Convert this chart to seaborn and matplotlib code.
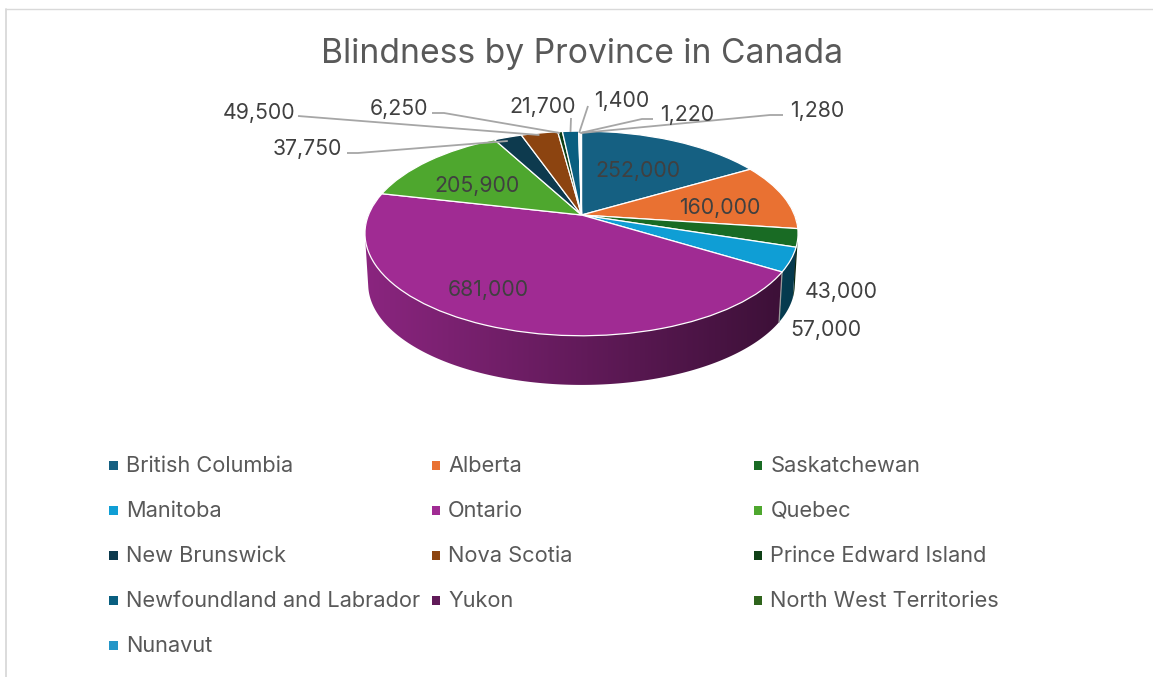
import numpy as np
import pandas as pd
import matplotlib
matplotlib.use("Agg")
import matplotlib.pyplot as plt
from matplotlib.patches import Polygon
from matplotlib.transforms import Transform
import seaborn as sns

# Blind population per province, in slice order
provinces = ["British Columbia", "Alberta", "Saskatchewan", "Manitoba", "Ontario", "Quebec",
             "New Brunswick", "Nova Scotia", "Prince Edward Island",
             "Newfoundland and Labrador", "Yukon", "North West Territories", "Nunavut"]
blind_counts = [252000, 160000, 43000, 57000, 681000, 205900, 37750, 49500, 6250, 21700, 1400, 1220, 1280]
slice_hex = ["#156082", "#E97132", "#196B24", "#0F9ED5", "#A02B93", "#4EA72E",
             "#0D3A4E", "#8C4410", "#0F4016", "#095F80", "#601A58", "#2F641C", "#2496C8"]

# Value label anchors (centre x, centre y) in figure pixels
label_xy = [(638, 171), (720, 208), (841, 292), (826, 330), (488, 290), (477, 186),
            (307, 149), (259, 113), (399, 109), (543, 107), (622, 101), (687, 115), (817, 111)]
# Leader elbows for the labels set outside the slice: province index -> label-side points
leaders = {6: [(347, 153), (358, 153)], 7: [(298, 116)], 8: [(432, 113), (444, 113)],
           9: [(571, 118)], 10: [(588, 106)], 11: [(653, 119), (642, 119)],
           12: [(783, 115), (770, 115)]}
leader_rim_y = {6: 141, 7: 135, 8: 133, 9: 132, 10: 133, 11: 133, 12: 133}

FONT = "Inter"
TITLE_GREY = "#595959"
LABEL_GREY = "#404040"
LEADER_GREY = "#A6A6A6"

sns.set_theme(style="white")
plt.rcParams["font.family"] = [FONT, "DejaVu Sans"]

fig = plt.figure(figsize=(11.53, 6.77), dpi=100)
ax = fig.add_axes([0, 0, 1, 1])

CX, CY = 581.5, 215.0
SPREAD_X, SPREAD_Y, TILT = 213.0, 99.0, 0.18
WALL_DROP, WALL_SCALE = 51.0, 0.985


def project(x, y, scale=1.0, drop=0.0):
    """Perspective view of the unit disc, returned in figure pixels."""
    w = 1 + TILT * np.asarray(y)
    return (CX + scale * SPREAD_X * np.asarray(x) / w,
            CY + drop - scale * SPREAD_Y * np.asarray(y) / w)


def convex_hull(points):
    """Monotone-chain hull of an (n, 2) array."""
    pts = sorted(map(tuple, points))

    def half(seq):
        out = []
        for p in seq:
            while len(out) > 1 and ((out[-1][0] - out[-2][0]) * (p[1] - out[-2][1])
                                    - (out[-1][1] - out[-2][1]) * (p[0] - out[-2][0])) <= 0:
                out.pop()
            out.append(p)
        return out[:-1]

    return np.array(half(pts) + half(pts[::-1]))


class DiscView(Transform):
    input_dims = output_dims = 2
    is_separable = False
    has_inverse = False

    def transform_non_affine(self, values):
        values = np.asarray(values)
        return np.column_stack(project(values[:, 0], values[:, 1]))


colors = sns.color_palette(slice_hex)
wedges, _ = ax.pie(blind_counts, colors=colors, startangle=90, counterclock=False, radius=1,
                   wedgeprops=dict(edgecolor="white", linewidth=0.9))
disc_view = DiscView() + ax.transData
for wedge in wedges:
    wedge.set_transform(disc_view)
    wedge.set_zorder(3)

# Horizontal lighting ramp for the side wall, from lit on the left to dark on the right
ramp_x = np.linspace(340, 820, 481)
ramp = np.clip(0.86 - (ramp_x - 370) / 410 * 0.48, 0.3, 1)

# Side wall: the hull of each slice's rim swept downward, filled with the shaded slice colour.
# Anything behind the rim stays hidden under the top surface.
for wedge, col in zip(wedges, colors):
    t1, t2 = sorted((wedge.theta1, wedge.theta2))
    th = np.radians(np.linspace(t1, t2, max(3, int(t2 - t1) * 2)))
    th = th[np.sin(th) < 0.6]
    if th.size < 2:
        continue
    ux, uy = project(np.cos(th), np.sin(th))
    lx, ly = project(np.cos(th), np.sin(th), WALL_SCALE, WALL_DROP)
    outline = convex_hull(np.column_stack([np.r_[ux, lx], np.r_[uy, ly]]))
    clip = Polygon(outline, closed=True, transform=ax.transData, facecolor="none", edgecolor="none")
    ax.add_patch(clip)
    shaded = ramp[None, :, None] * np.array(col)[None, None, :]
    img = ax.imshow(shaded, extent=(ramp_x[0], ramp_x[-1], 400, 200), aspect="auto",
                    interpolation="bilinear", zorder=1)
    img.set_clip_path(clip)

# Light seam on the wall where Manitoba meets Ontario
seam = np.radians(wedges[3].theta1)
sx0, sy0 = project(np.cos(seam), np.sin(seam))
sx1, sy1 = project(np.cos(seam), np.sin(seam), WALL_SCALE, WALL_DROP)
ax.plot([sx0, sx1], [sy0, sy1], color="#9a9a9a", lw=0.9, zorder=2)

# Value labels and their leader lines
for i, (value, (lx, ly)) in enumerate(zip(blind_counts, label_xy)):
    ax.text(lx, ly, f"{value:,}", ha="center", va="center", fontsize=15.3,
            color=LABEL_GREY, zorder=5)
    if i in leaders:
        mid = np.radians(0.5 * (wedges[i].theta1 + wedges[i].theta2))
        rx, _ = project(np.cos(mid), np.sin(mid))
        path = leaders[i] + [(float(rx), leader_rim_y[i])]
        ax.plot(*zip(*path), color=LEADER_GREY, lw=1.3, zorder=4, solid_capstyle="butt")

# Legend, laid out row by row in three equal columns
legend = pd.DataFrame({"province": provinces})
legend["row"] = legend.index // 3
legend["col"] = legend.index % 3
legend["mx"] = 113.5 + legend["col"] * 322.2
legend["my"] = 465.5 + legend["row"] * 45
sns.scatterplot(data=legend, x="mx", y="my", hue="province", palette=dict(zip(provinces, colors)),
                marker="s", s=36, linewidth=0, legend=False, ax=ax, zorder=5)
for row in legend.itertuples():
    ax.text(row.mx + 12.5, row.my + 0.5, row.province, ha="left", va="center",
            fontsize=15.7, color=TITLE_GREY)

ax.text(582, 54.5, "Blindness by Province in Canada", ha="center", va="center",
        fontsize=24.2, color=TITLE_GREY)

# Chart frame along the top and left
ax.plot([6, 6], [8.5, 677], color="#D9D9D9", lw=1.3)
ax.plot([6, 1153], [8.5, 8.5], color="#D9D9D9", lw=1.0)

ax.set_aspect("auto")
ax.set_xlim(0, 1153)
ax.set_ylim(677, 0)
ax.set_axis_off()
fig.savefig("out.png", dpi=100, facecolor="white")
